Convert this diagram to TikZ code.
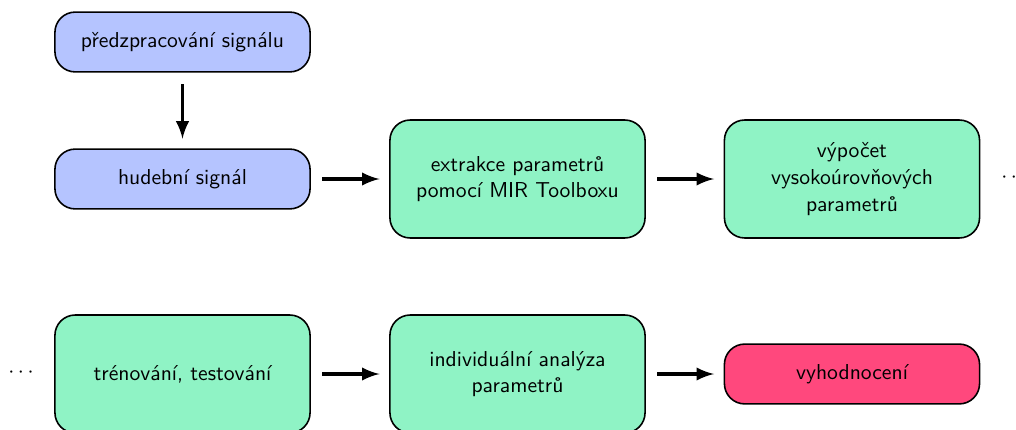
\documentclass[tikz,border=0pt]{standalone}
\usepackage{fontspec}
\usepackage{tikz}
\usetikzlibrary{arrows,backgrounds,calc,positioning}
\definecolor{signalblue}{RGB}{181,196,255}
\definecolor{stepgreen}{RGB}{143,243,197}
\definecolor{finalred}{RGB}{255,72,125}
\tikzset{
  blok/.style={draw=black, thick, rounded corners=0.36cm, align=center,
    minimum width=4.52cm, font=\sffamily\fontsize{10.9}{13.4}\selectfont},
  nizky/.style={blok, minimum height=1.06cm},
  vysoky/.style={blok, minimum height=2.09cm},
  sipka/.style={->, >=latex, line width=2pt, shorten <=0.2cm, shorten >=0.17cm}
}
\begin{document}
\begin{tikzpicture}[x=0.01772cm, y=-0.01772cm]
\useasboundingbox (0,0) rectangle (1016,430);
\node[nizky, fill=signalblue] (predzpr) at (182.5,42) {předzpracování signálu};
\node[nizky, fill=signalblue] (signal) at (182.5,179) {hudební signál};
\node[vysoky, fill=stepgreen] (extrakce) at (517.5,179) {extrakce parametrů\\pomocí MIR Toolboxu};
\node[vysoky, fill=stepgreen] (vypocet) at (852,179) {výpočet\\vysokoúrovňových\\parametrů};
\node[font=\sffamily\fontsize{10.9}{13.4}\selectfont] (teckyA) at (1014,178) {$\cdots$};
\node[font=\sffamily\fontsize{10.9}{13.4}\selectfont] (teckyB) at (21,373) {$\cdots$};
\node[vysoky, fill=stepgreen] (trenovani) at (182.5,374) {trénování, testování};
\node[vysoky, fill=stepgreen] (analyza) at (517.5,374) {individuální analýza\\parametrů};
\node[nizky, fill=finalred] (vyhodnoceni) at (852,374) {vyhodnocení};
\draw[sipka] (predzpr) -- (signal);
\draw[sipka] (signal) -- (extrakce);
\draw[sipka] (extrakce) -- (vypocet);
\draw[sipka] (trenovani) -- (analyza);
\draw[sipka] (analyza) -- (vyhodnoceni);
\end{tikzpicture}
\end{document}
